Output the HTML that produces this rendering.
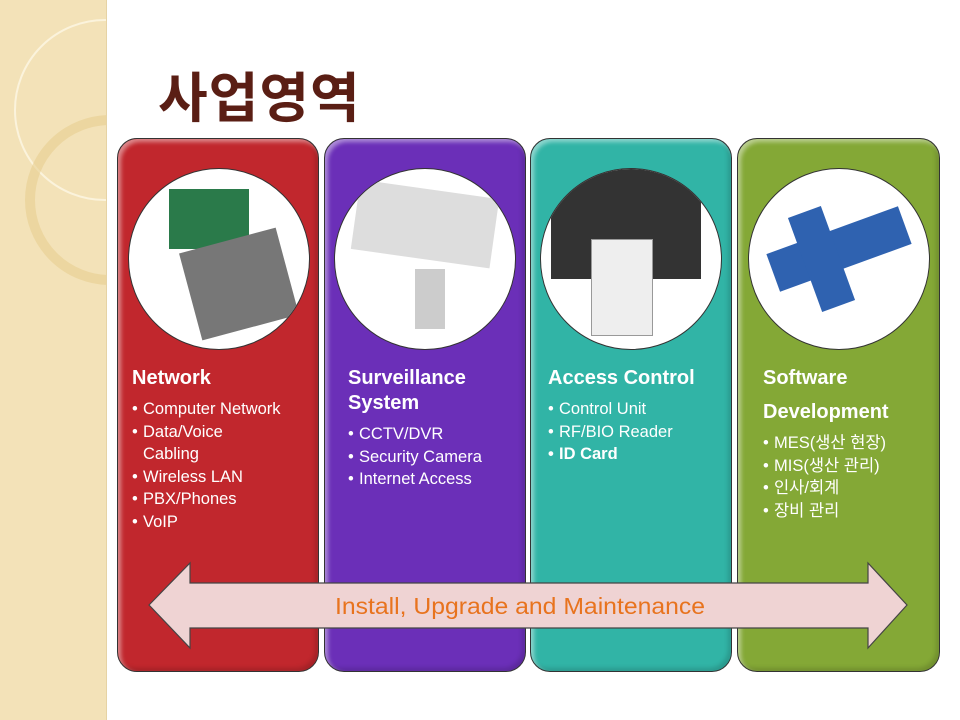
<!DOCTYPE html>
<html><head><meta charset="utf-8"><style>
body{margin:0;width:960px;height:720px;position:relative;background:#fff;overflow:hidden;font-family:"Liberation Sans","Noto Sans CJK KR",sans-serif}
.strip{position:absolute;left:0;top:0;width:106px;height:720px;background:#f3e2b8;border-right:1px solid #e6d3a4}
.title{position:absolute;left:158px;top:54px;font-size:54px;font-weight:bold;color:#5a1e14;font-family:"Noto Sans CJK KR",sans-serif;letter-spacing:1px}
.p{position:absolute;top:138px;height:532px;border-radius:20px;border:1px solid #333;box-shadow:inset 3px 3px 4px rgba(255,255,255,.45),inset -3px -3px 4px rgba(0,0,0,.15)}
.c{position:absolute;top:168px;width:180px;height:180px;border-radius:50%;background:#fff;border:1px solid #333;overflow:hidden}
.h{position:absolute;color:#fff;font-weight:bold;font-size:20px;line-height:25px}
.l{position:absolute;color:#fff;font-size:16.5px;line-height:22.5px}
.l span{display:inline-block;width:11px}
</style></head><body>
<div class="strip"></div>
<svg style="position:absolute;left:0;top:0" width="106" height="720"><circle cx="105" cy="110" r="90" fill="none" stroke="#fbf3dc" stroke-width="2"/><circle cx="110" cy="200" r="80" fill="none" stroke="#e8cf8f" stroke-width="10" opacity=".6"/></svg>
<div class="title">사업영역</div>
<div class="p" style="left:117px;width:200px;background:#c1272d"></div>
<div class="p" style="left:324px;width:200px;background:#6b2fb8"></div>
<div class="p" style="left:530px;width:200px;background:#31b4a6"></div>
<div class="p" style="left:737px;width:201px;background:#84a836"></div>
<div class="c" style="left:128px"><div style="position:absolute;left:40px;top:20px;width:80px;height:60px;background:#2a7a4a"></div><div style="position:absolute;left:60px;top:70px;width:100px;height:90px;background:#777;transform:rotate(-15deg)"></div></div>
<div class="c" style="left:334px"><div style="position:absolute;left:20px;top:20px;width:140px;height:70px;background:#ddd;transform:rotate(8deg)"></div><div style="position:absolute;left:80px;top:100px;width:30px;height:60px;background:#ccc"></div></div>
<div class="c" style="left:540px"><div style="position:absolute;left:10px;top:0;width:150px;height:110px;background:#333"></div><div style="position:absolute;left:50px;top:70px;width:60px;height:95px;background:#eee;border:1px solid #999"></div></div>
<div class="c" style="left:748px"><div style="position:absolute;left:20px;top:60px;width:140px;height:40px;background:#2f62b0;transform:rotate(-20deg)"></div><div style="position:absolute;left:55px;top:40px;width:35px;height:100px;background:#2f62b0;transform:rotate(-20deg)"></div></div>
<div class="h" style="left:132px;top:366px">Network</div>
<div class="l" style="left:132px;top:398px"><span>•</span>Computer Network<br><span>•</span>Data/Voice<br><span></span>Cabling<br><span>•</span>Wireless LAN<br><span>•</span>PBX/Phones<br><span>•</span>VoIP</div>
<div class="h" style="left:348px;top:366px">Surveillance<br>System</div>
<div class="l" style="left:348px;top:423px"><span>•</span>CCTV/DVR<br><span>•</span>Security Camera<br><span>•</span>Internet Access</div>
<div class="h" style="left:548px;top:366px">Access Control</div>
<div class="l" style="left:548px;top:398px"><span>•</span>Control Unit<br><span>•</span>RF/BIO Reader<br><b><span>•</span>ID Card</b></div>
<div class="h" style="left:763px;top:361px;line-height:34px">Software<br>Development</div>
<div class="l" style="left:763px;top:432px"><span>•</span>MES(생산 현장)<br><span>•</span>MIS(생산 관리)<br><span>•</span>인사/회계<br><span>•</span>장비 관리</div>
<svg style="position:absolute;left:0;top:0" width="960" height="720">
<polygon points="149,605 190,563 190,583 868,583 868,563 907,605 868,648 868,628 190,628 190,648" fill="#efd3d3" stroke="#444" stroke-width="1.2"/>
<text x="335" y="614" textLength="370" lengthAdjust="spacingAndGlyphs" font-family="Liberation Sans,sans-serif" font-size="23" fill="#e8731e">Install, Upgrade and Maintenance</text>
</svg>
</body></html>
